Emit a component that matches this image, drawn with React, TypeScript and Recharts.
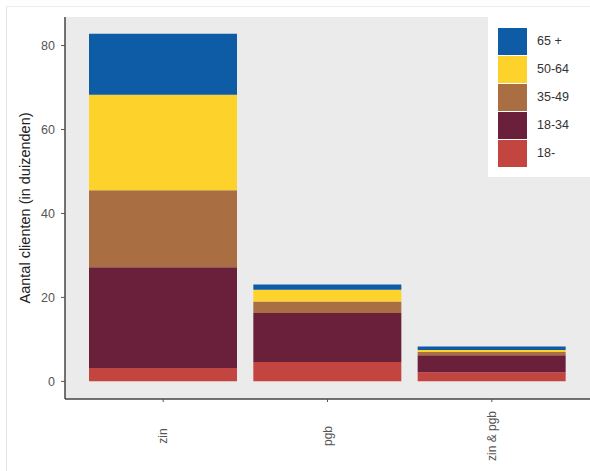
import { BarChart, Bar, XAxis, YAxis, CartesianGrid } from "recharts";

// categories on the x axis
const categories = ["zin", "pgb", "zin & pgb"];

// values per age group (x 1000 clients), bottom of stack first
const age18min = [3.2, 4.6, 2.2];
const age18to34 = [24.0, 11.7, 4.0];
const age35to49 = [18.3, 2.7, 0.8];
const age50to64 = [22.8, 2.8, 0.5];
const age65plus = [14.5, 1.3, 0.8];

const yTicks = [0, 20, 40, 60, 80];

const series = [
  { key: "a18min", name: "18-", color: "#C2453F" },
  { key: "a18to34", name: "18-34", color: "#6A1F3B" },
  { key: "a35to49", name: "35-49", color: "#A96E42" },
  { key: "a50to64", name: "50-64", color: "#FCD22B" },
  { key: "a65plus", name: "65 +", color: "#0E5BA6" },
];

const data = categories.map((name, i) => ({
  name,
  a18min: age18min[i],
  a18to34: age18to34[i],
  a35to49: age35to49[i],
  a50to64: age50to64[i],
  a65plus: age65plus[i],
}));

const FONT = "'Liberation Sans', Arial, sans-serif";

function XTick({ x, payload }: any) {
  return (
    <text
      transform={`translate(${x},436) rotate(-90)`}
      textAnchor="middle"
      dominantBaseline="central"
      fontSize={12}
      fontFamily={FONT}
      fill="#555"
    >
      {payload.value}
    </text>
  );
}

// legend drawn as a plain box over the top right of the panel
function LegendBox() {
  const items = [...series].reverse();
  return (
    <div
      style={{
        position: "absolute",
        left: 488,
        top: 15,
        background: "#fff",
        width: 102,
        height: 162,
        paddingTop: 12,
        boxSizing: "border-box",
        fontFamily: FONT,
      }}
    >
      {items.map((s) => (
        <div key={s.key} style={{ display: "flex", alignItems: "center", height: 28, marginLeft: 10 }}>
          <div style={{ width: 29, height: 27, background: s.color }} />
          <span style={{ marginLeft: 10, fontSize: 12.5, color: "#333" }}>{s.name}</span>
        </div>
      ))}
    </div>
  );
}

export default function App() {
  return (
    <div style={{ position: "absolute", left: 0, top: 0, width: 590, height: 471, background: "#fff" }}>
      <div
        style={{
          position: "absolute",
          left: 6,
          top: 6,
          width: 584,
          height: 465,
          borderLeft: "1px solid #e4e4e4",
          borderTop: "1px solid #ececec",
        }}
      />
      <BarChart
        width={590}
        height={471}
        data={data}
        margin={{ top: 17, right: 0, bottom: 0, left: 0 }}
        barSize={148}
        style={{ position: "absolute", left: 0, top: 0 }}
      >
        <CartesianGrid fill="#EBEBEB" horizontal={false} vertical={false} stroke="none" />
        <XAxis
          dataKey="name"
          padding={{ left: 16, right: 16 }}
          axisLine={{ stroke: "#444", strokeWidth: 1.5 }}
          tickLine={{ stroke: "#555" }}
          tickSize={3}
          tick={<XTick />}
          interval={0}
          height={72}
        />
        <YAxis
          width={65}
          domain={[-4.2, 86.8]}
          allowDataOverflow
          ticks={yTicks}
          axisLine={{ stroke: "#444", strokeWidth: 1.5 }}
          tickLine={{ stroke: "#555" }}
          tickSize={4}
          tickMargin={6}
          tick={{ fontSize: 12.5, fill: "#555", fontFamily: FONT }}
          label={{
            content: ({ viewBox }: any) => (
              <text
                transform={`translate(25,${viewBox.y + viewBox.height / 2}) rotate(-90)`}
                textAnchor="middle"
                dominantBaseline="central"
                fontSize={14.5}
                fontFamily={FONT}
                fill="#222"
              >
                Aantal clienten (in duizenden)
              </text>
            ),
          }}
        />
        {series.map((s) => (
          <Bar key={s.key} dataKey={s.key} name={s.name} stackId="a" fill={s.color} isAnimationActive={false} />
        ))}
      </BarChart>
      <LegendBox />
    </div>
  );
}
